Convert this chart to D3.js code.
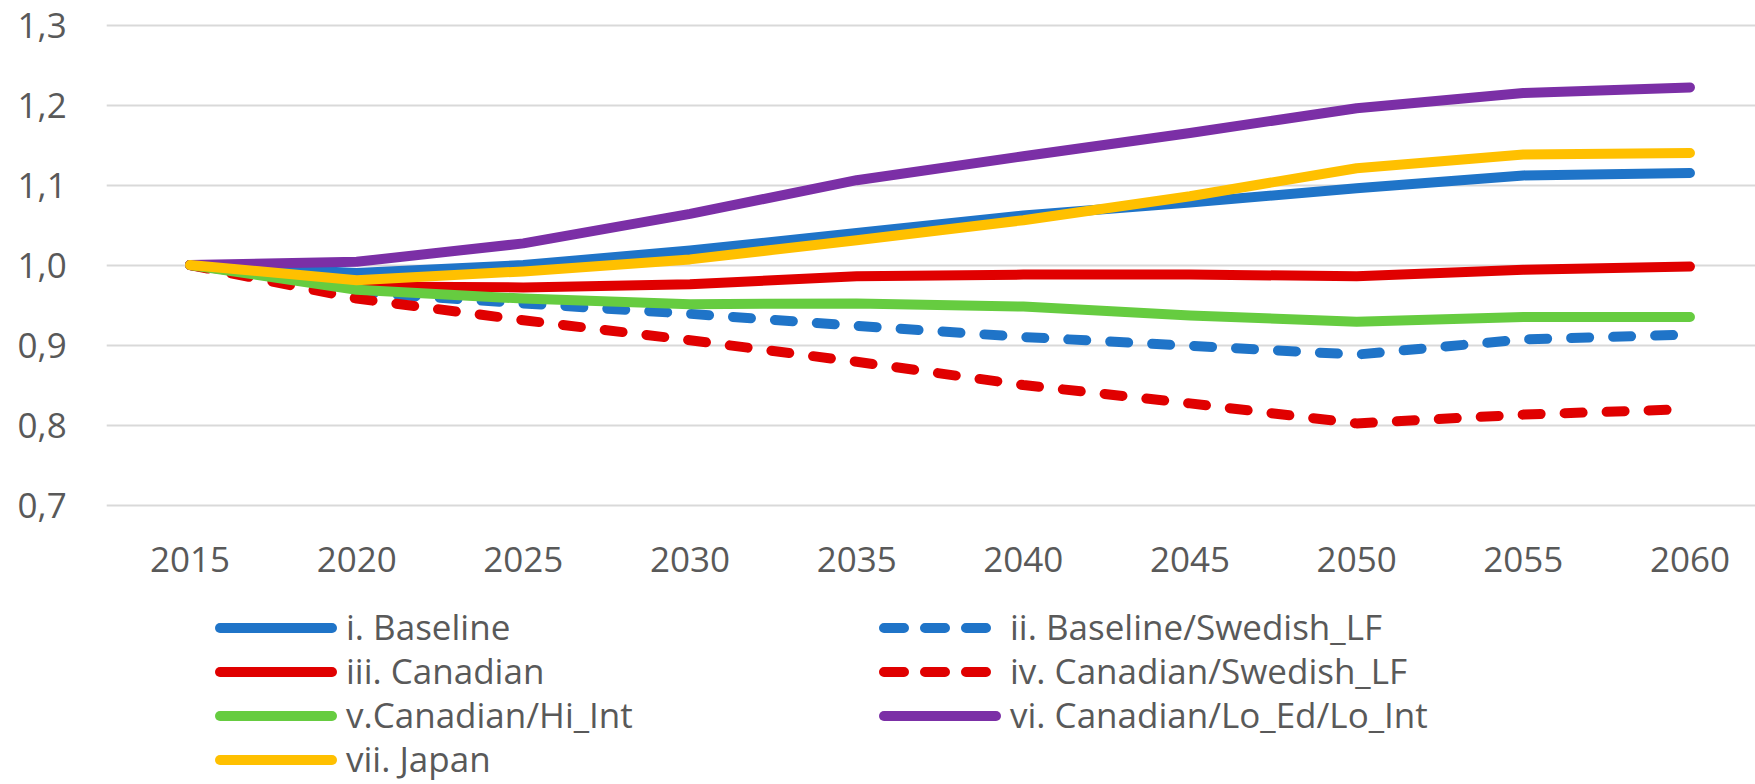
<!DOCTYPE html>
<html>
<head>
<meta charset="utf-8">
<script src="https://cdn.jsdelivr.net/npm/d3@7"></script>
<style>
  html, body { margin: 0; padding: 0; background: #ffffff; }
  svg { display: block; }
  text { font-family: "Open Sans", "Noto Sans", sans-serif; fill: #595959; }
</style>
</head>
<body>
<svg id="chart" width="1755" height="784"></svg>
<script>
// ---- data ----
const years = ["2015","2020","2025","2030","2035","2040","2045","2050","2055","2060"];
const yTicks = [0.7, 0.8, 0.9, 1.0, 1.1, 1.2, 1.3];

const seriesNames = [
  "i. Baseline",
  "ii. Baseline/Swedish_LF",
  "iii. Canadian",
  "iv. Canadian/Swedish_LF",
  "v.Canadian/Hi_Int",
  "vi. Canadian/Lo_Ed/Lo_Int",
  "vii. Japan"
];
const baseline          = [1.000, 0.990, 1.000, 1.018, 1.040, 1.062, 1.078, 1.096, 1.112, 1.115];
const baselineSwedishLF = [1.000, 0.966, 0.952, 0.939, 0.924, 0.910, 0.899, 0.888, 0.907, 0.913];
const canadian          = [1.000, 0.973, 0.972, 0.976, 0.986, 0.988, 0.988, 0.986, 0.994, 0.998];
const canadianSwedishLF = [1.000, 0.958, 0.931, 0.906, 0.879, 0.850, 0.827, 0.802, 0.813, 0.820];
const canadianHiInt     = [1.000, 0.969, 0.958, 0.951, 0.952, 0.948, 0.937, 0.929, 0.935, 0.935];
const canadianLoEdLoInt = [1.000, 1.004, 1.027, 1.064, 1.106, 1.136, 1.165, 1.196, 1.215, 1.222];
const japan             = [1.000, 0.981, 0.992, 1.007, 1.031, 1.056, 1.086, 1.121, 1.138, 1.140];

const seriesValues = [baseline, baselineSwedishLF, canadian, canadianSwedishLF, canadianHiInt, canadianLoEdLoInt, japan];
const seriesColors = ["#1f74c8", "#1f74c8", "#e00000", "#e00000", "#66cc40", "#7b2fa6", "#ffc000"];
const seriesDashed = [false, true, false, true, false, false, false];

// ---- layout ----
const svg = d3.select("#chart");
const W = 1755;
const plotLeft = 106.7, plotRight = 1773.3, plotTop = 25, plotBottom = 505;

const x = d3.scaleBand().domain(years).range([plotLeft, plotRight]).padding(0);
const cx = d => x(d) + x.bandwidth() / 2;
const y = d3.scaleLinear().domain([0.7, 1.3]).range([plotBottom, plotTop]);

const locale = d3.formatLocale({decimal: ",", thousands: ".", grouping: [3], currency: ["", ""]});
const fmt = locale.format(".1f");

// gridlines + y labels
const yAxis = d3.axisLeft(y)
  .tickValues(yTicks)
  .tickFormat(fmt)
  .tickSize(-(W - plotLeft))
  .tickPadding(40);
const gy = svg.append("g").attr("transform", `translate(${plotLeft},0)`).call(yAxis);
gy.select(".domain").remove();
gy.selectAll(".tick line").attr("stroke", "#d9d9d9").attr("stroke-width", 2);
gy.selectAll(".tick text")
  .attr("font-size", 35)
  .attr("dy", "0.36em")
  .attr("fill", "#595959")
  .style("font-family", '"Open Sans", sans-serif');

// x labels
const xAxis = d3.axisBottom(x).tickSize(0).tickPadding(42);
const gx = svg.append("g").attr("transform", `translate(0,${plotBottom})`).call(xAxis);
gx.select(".domain").remove();
gx.selectAll(".tick text")
  .attr("font-size", 35)
  .attr("fill", "#595959")
  .style("font-family", '"Open Sans", sans-serif');

// lines
const line = d3.line().x((d, i) => cx(years[i])).y(d => y(d));
const series = seriesNames.map((name, i) => ({name, values: seriesValues[i], color: seriesColors[i], dashed: seriesDashed[i]}));

svg.append("g").selectAll("path")
  .data(series)
  .join("path")
  .attr("d", d => line(d.values))
  .attr("fill", "none")
  .attr("stroke", d => d.color)
  .attr("stroke-width", 10)
  .attr("stroke-linecap", "round")
  .attr("stroke-linejoin", "round")
  .attr("stroke-dasharray", d => d.dashed ? "18,24" : null);

// legend
const legCols = [215, 879];
const legRow0 = 628, legRowStep = 44;
const leg = svg.append("g").selectAll("g")
  .data(series)
  .join("g")
  .attr("transform", (d, i) => `translate(${legCols[i % 2]},${legRow0 + Math.floor(i / 2) * legRowStep})`);

leg.append("line")
  .attr("x1", 5)
  .attr("x2", d => d.dashed ? 107 : 117)
  .attr("y1", 0).attr("y2", 0)
  .attr("stroke", d => d.color)
  .attr("stroke-width", 10)
  .attr("stroke-linecap", "round")
  .attr("stroke-dasharray", d => d.dashed ? "20,21" : null);

leg.append("text")
  .attr("x", 131)
  .attr("y", 0)
  .attr("dy", "0.35em")
  .attr("font-size", 35)
  .text(d => d.name);
</script>
</body>
</html>
